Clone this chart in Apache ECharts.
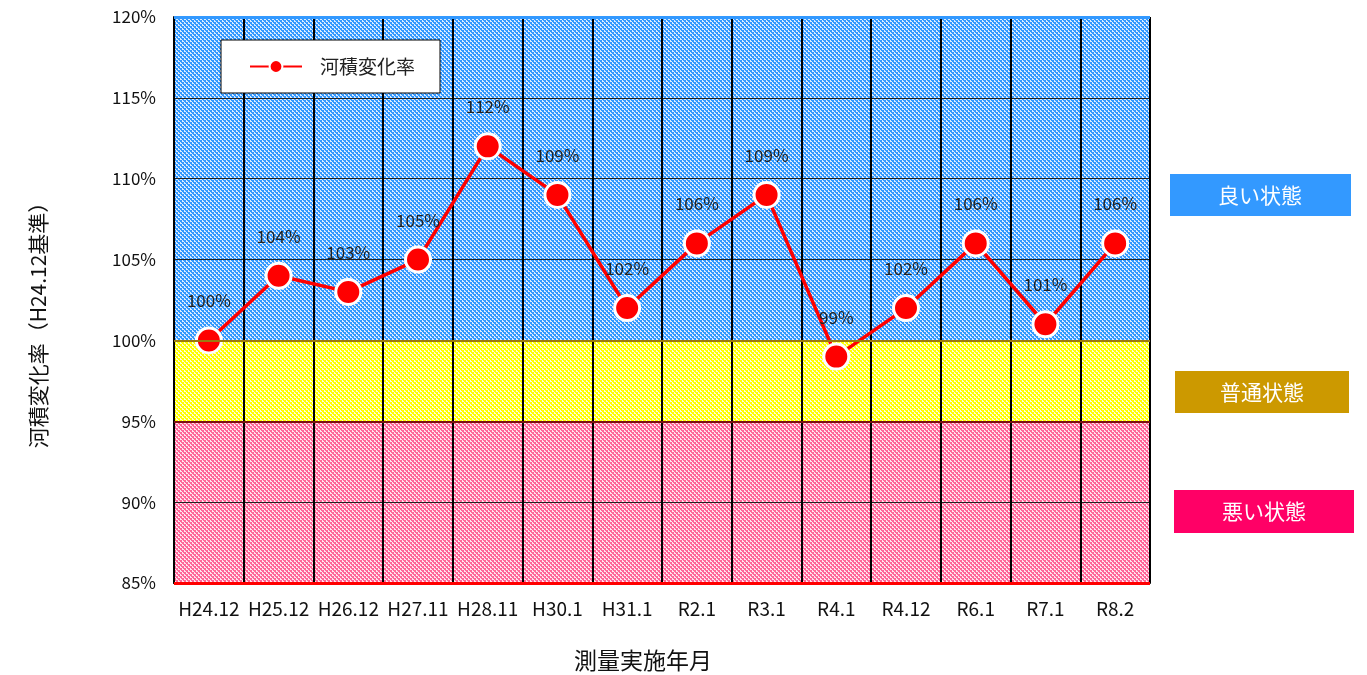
<!DOCTYPE html>
<html>
<head>
<meta charset="utf-8">
<script src="https://cdn.jsdelivr.net/npm/echarts@6/dist/echarts.min.js"></script>
<style>
html,body{margin:0;padding:0;background:#fff;}
#main{width:1367px;height:675px;}
</style>
</head>
<body>
<div id="main"></div>
<script>
var categories = ['H24.12','H25.12','H26.12','H27.11','H28.11','H30.1','H31.1','R2.1','R3.1','R4.1','R4.12','R6.1','R7.1','R8.2'];
var rateValues = [100,104,103,105,112,109,102,106,109,99,102,106,101,106];
var yTicks = [85,90,95,100,105,110,115,120];
var bandGood = [100,120];
var bandNormal = [95,100];
var bandBad = [85,95];

var FONT = '"Noto Sans CJK JP", "Noto Sans", sans-serif';

// 網掛けパターン (2px の市松)
function makePattern(color, light) {
	var c = document.createElement('canvas');
	c.width = 4; c.height = 4;
	var ctx = c.getContext('2d');
	ctx.fillStyle = light;
	ctx.fillRect(0, 0, 4, 4);
	ctx.fillStyle = color;
	ctx.fillRect(0, 0, 2, 2);
	ctx.fillRect(2, 2, 2, 2);
	ctx.fillRect(1, 2, 1, 1);
	ctx.fillRect(3, 0, 1, 1);
	return { image: c, repeat: 'repeat' };
}

var chart = echarts.init(document.getElementById('main'));

var option = {
	animation: false,
	grid: { left: 174, right: 217, top: 17, bottom: 92, containLabel: false },
	legend: {
		left: 221, top: 40,
		padding: [17, 25, 17, 28],
		backgroundColor: '#fff',
		borderColor: '#000',
		borderWidth: 1,
		itemWidth: 52, itemHeight: 16,
		data: ['河積変化率'],
		textStyle: { fontFamily: FONT, fontSize: 19, color: '#222', padding: [0, 0, 0, 13] }
	},
	xAxis: {
		type: 'category',
		data: categories,
		boundaryGap: true,
		z: 2,
		axisLine: { lineStyle: { color: '#000', width: 2 } },
		axisTick: { show: false },
		splitLine: { show: true, lineStyle: { color: '#000', width: 2 } },
		axisLabel: { interval: 0, margin: 16, fontFamily: FONT, fontSize: 19, color: '#111' }
	},
	yAxis: {
		type: 'value',
		min: yTicks[0], max: yTicks[yTicks.length - 1], interval: 5,
		z: 2,
		axisLine: { show: true, lineStyle: { color: '#000', width: 2 } },
		axisTick: { show: false },
		splitLine: { show: true, lineStyle: { color: '#222', width: 1 } },
		axisLabel: { margin: 18, fontFamily: FONT, fontSize: 17, color: '#111', formatter: '{value}%' }
	},
	graphic: [
		{ type: 'text', x: 643, y: 660, style: { text: '測量実施年月', font: '23px ' + FONT, fill: '#111', align: 'center', verticalAlign: 'middle' } },
		{ type: 'text', x: 38, y: 320, rotation: Math.PI / 2, style: { text: '河積変化率（H24.12基準）', font: '21px ' + FONT, fill: '#111', align: 'center', verticalAlign: 'middle' } },
		{ type: 'group', left: 1170, top: 174, children: [
			{ type: 'rect', shape: { x: 0, y: 0, width: 181, height: 42 }, style: { fill: '#3399ff' } },
			{ type: 'text', x: 90, y: 21, style: { text: '良い状態', font: '21px ' + FONT, fill: '#fff', align: 'center', verticalAlign: 'middle' } }
		] },
		{ type: 'group', left: 1175, top: 371, children: [
			{ type: 'rect', shape: { x: 0, y: 0, width: 174, height: 42 }, style: { fill: '#cc9900' } },
			{ type: 'text', x: 87, y: 21, style: { text: '普通状態', font: '21px ' + FONT, fill: '#fff', align: 'center', verticalAlign: 'middle' } }
		] },
		{ type: 'group', left: 1174, top: 490, children: [
			{ type: 'rect', shape: { x: 0, y: 0, width: 180, height: 43 }, style: { fill: '#ff0066' } },
			{ type: 'text', x: 90, y: 21, style: { text: '悪い状態', font: '21px ' + FONT, fill: '#fff', align: 'center', verticalAlign: 'middle' } }
		] }
	],
	series: [
		{
			name: 'bands',
			type: 'line',
			data: [],
			z: 1,
			silent: true,
			markArea: {
				silent: true,
				label: { show: false },
				data: [
					[{ yAxis: bandGood[0], itemStyle: { color: makePattern('#3399ff', '#dcecff') } }, { yAxis: bandGood[1] }],
					[{ yAxis: bandNormal[0], itemStyle: { color: makePattern('#ffff00', '#ffffd8') } }, { yAxis: bandNormal[1] }],
					[{ yAxis: bandBad[0], itemStyle: { color: makePattern('#ff6699', '#ffe4ee') } }, { yAxis: bandBad[1] }]
				]
			},
			markLine: {
				silent: true,
				symbol: 'none',
				label: { show: false },
				data: [
					{ yAxis: bandGood[1], lineStyle: { color: '#3399ff', width: 3, type: 'solid' } },
					{ yAxis: bandGood[0], lineStyle: { color: '#9c7a10', width: 2, type: 'solid' } },
					{ yAxis: bandNormal[0], lineStyle: { color: '#7a1010', width: 2, type: 'solid' } },
					{ yAxis: bandBad[0], lineStyle: { color: '#ff0000', width: 3, type: 'solid' } }
				]
			}
		},
		{
			name: '河積変化率',
			type: 'line',
			data: rateValues,
			z: 3,
			symbol: 'circle',
			symbolSize: 25,
			lineStyle: { color: '#ff0000', width: 3.5 },
			itemStyle: { color: '#ff0000', borderColor: '#fff', borderWidth: 3 },
			label: {
				show: true, position: 'top', distance: 17,
				fontFamily: FONT, fontSize: 17, color: '#222',
				formatter: '{c}%'
			}
		}
	]
};
chart.setOption(option);
</script>
</body>
</html>
